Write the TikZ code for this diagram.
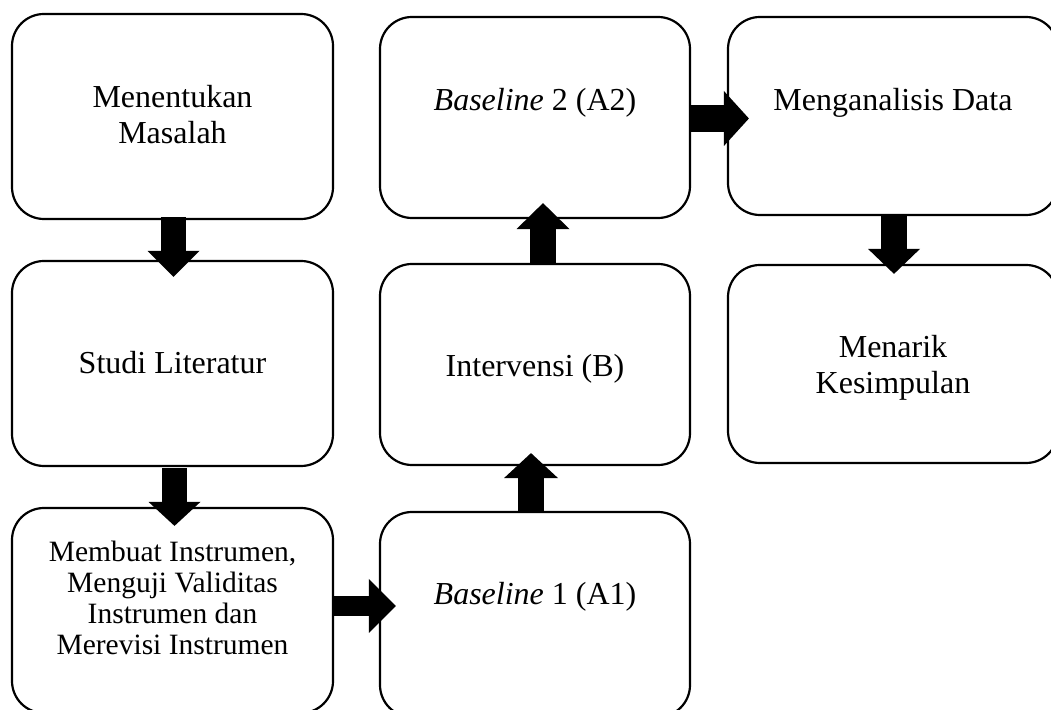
\documentclass[tikz,border=0pt]{standalone}
\usepackage{fontspec}
\setmainfont{Liberation Serif}
\usetikzlibrary{arrows.meta,calc}
\newcommand{\liftup}[2]{\raisebox{#1}[\height][\depth]{#2}}
\tikzset{
  box/.style={draw, line width=2.2pt, rounded corners=32pt, inner sep=0pt,
    font=\fontsize{32}{36}\selectfont, align=center},
  oneline/.style={text height=21pt, text depth=0pt},
  blk/.style n args={3}{line width=#1, -{Triangle[length=#3,width=#2,line width=0pt]}}
}
\begin{document}
\begin{tikzpicture}[x=1pt,y=1pt]
\useasboundingbox (0,0) rectangle (1051,709);
\clip (0,0) rectangle (1051,709);
\fill[white] (0,0) rectangle (1051,709);

\node[box, minimum width=321pt, minimum height=205pt] (b1) at (172.5,592.5) {\liftup{-1.5pt}{\begin{tabular}{@{}c@{}}Menentukan\\Masalah\end{tabular}}};
\node[box, oneline, minimum width=321pt, minimum height=205pt] (b2) at (172.5,345.5) {Studi Literatur};
\node[box, minimum width=321pt, minimum height=205pt, font=\fontsize{29.5}{31}\selectfont] (b3) at (172.5,98.5)
  {\liftup{8.5pt}{\begin{tabular}{@{}c@{}}Membuat Instrumen,\\Menguji Validitas\\Instrumen dan\\Merevisi Instrumen\end{tabular}}};
\node[box, oneline, minimum width=310pt, minimum height=205pt] (b4) at (535,94.5) {\liftup{21pt}{\textit{Baseline} 1 (A1)}};
\node[box, oneline, minimum width=310pt, minimum height=201pt] (b5) at (535,344.5) {\liftup{-1.5pt}{Intervensi (B)}};
\node[box, oneline, minimum width=310pt, minimum height=201pt] (b6) at (535,591.5) {\liftup{17.5pt}{\textit{Baseline} 2 (A2)}};
\node[box, oneline, minimum width=330pt, minimum height=198pt] (b7) at (893,593) {\liftup{15.5pt}{Menganalisis Data}};
\node[box, minimum width=330pt, minimum height=198pt] (b8) at (893,345) {\liftup{-4pt}{\begin{tabular}{@{}c@{}}Menarik\\Kesimpulan\end{tabular}}};

\draw[blk={25pt}{52pt}{26pt}] ($(b1.south)+(1,3)$) -- ($(b2.north)+(1,-17)$);
\draw[blk={25pt}{52pt}{24pt}] ($(b2.south)+(2,-1)$) -- ($(b3.north)+(2,-19)$);
\draw[blk={20pt}{54pt}{27pt}] ($(b3.east)+(0,4.5)$) -- ($(b4.west)+(17,8.5)$);
\draw[blk={26pt}{54pt}{25pt}] ($(b4.north)+(-4,-2)$) -- ($(b5.south)+(-4,13)$);
\draw[blk={26pt}{53pt}{26pt}] ($(b5.north)+(8,-1)$) -- ($(b6.south)+(8,16)$);
\draw[blk={27pt}{55pt}{25pt}] ($(b6.east)+(-2,-1)$) -- ($(b7.west)+(22,-2.5)$);
\draw[blk={26pt}{52pt}{25pt}] ($(b7.south)+(1,2)$) -- ($(b8.north)+(1,-10)$);
\end{tikzpicture}
\end{document}
